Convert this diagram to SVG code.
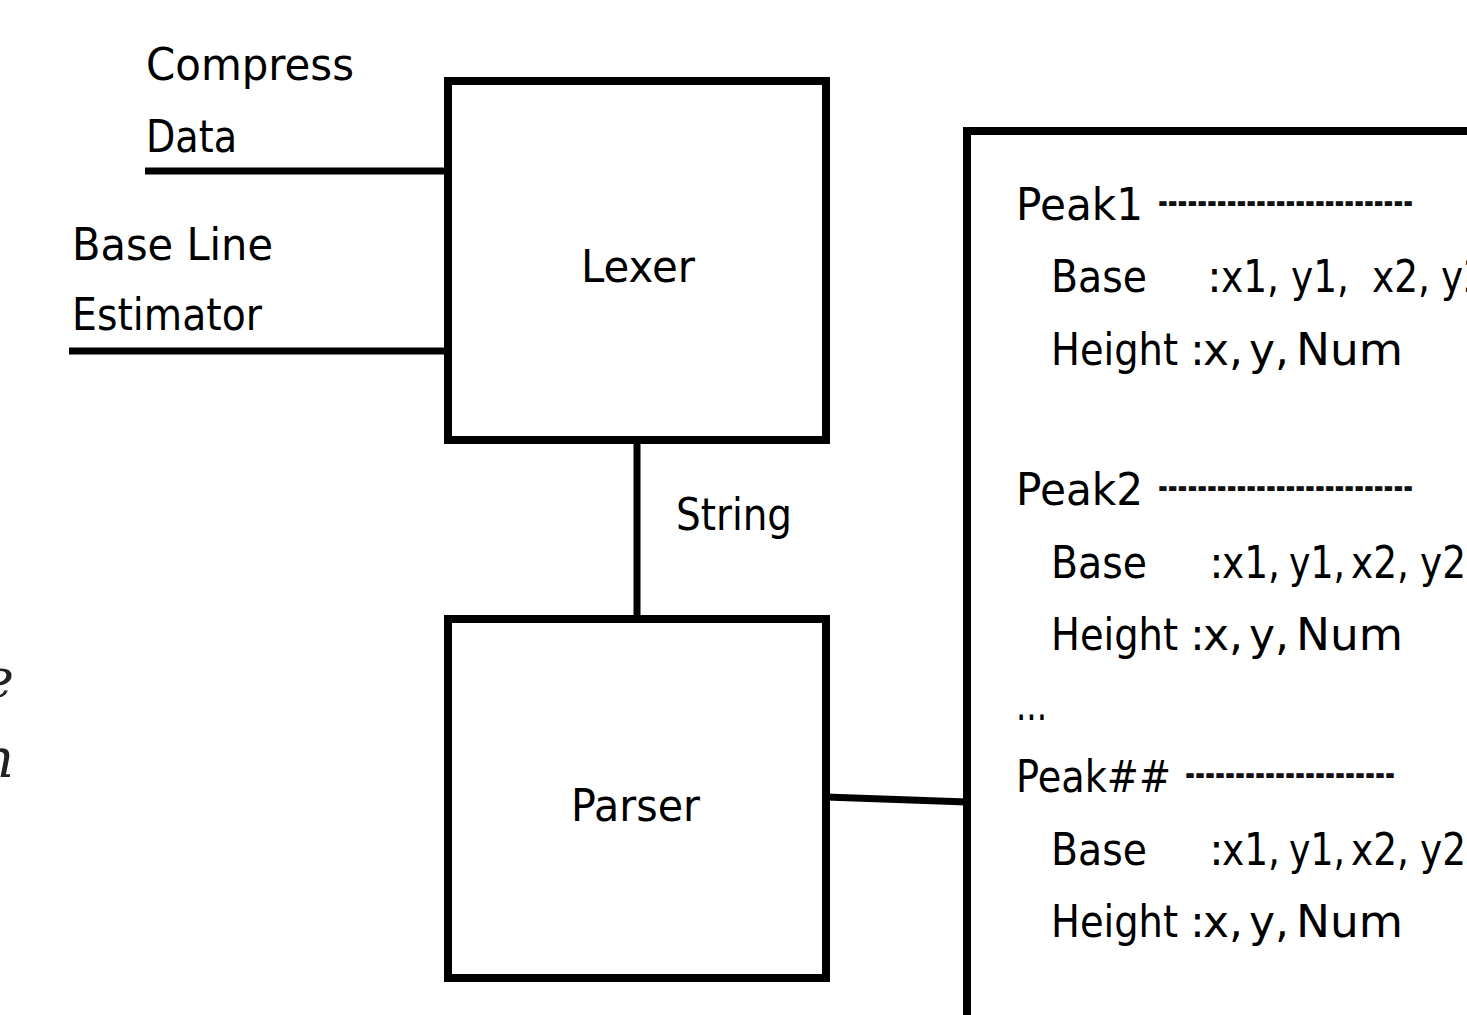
<svg xmlns="http://www.w3.org/2000/svg" width="1467" height="1015" viewBox="0 0 1467 1015">
  <style>
    .box { fill: #ffffff; stroke: #000000; stroke-width: 8; }
    .wire { stroke: #000000; stroke-width: 7; fill: none; }
    .lbl { font-family: "DejaVu Sans", "Liberation Sans", sans-serif; font-size: 44px; fill: #000000; }
    .dash { font-family: "DejaVu Sans", "Liberation Sans", sans-serif; font-size: 34px; font-weight: bold; fill: #111111; }
    .cut { font-family: "DejaVu Serif", "Liberation Serif", serif; font-style: italic; font-size: 54px; fill: #222222; }
  </style>
  <rect x="0" y="0" width="1467" height="1015" fill="#ffffff"/>

  <!-- clipped labels at the left border -->
  <g id="edge-text">
    <text class="cut" x="14" y="697" text-anchor="end">e</text>
    <text class="cut" x="14" y="777" text-anchor="end">n</text>
  </g>

  <!-- inputs -->
  <g id="compress-data">
    <text class="lbl" x="146" y="80" textLength="208" lengthAdjust="spacingAndGlyphs">Compress</text>
    <text class="lbl" x="146" y="152" textLength="91" lengthAdjust="spacingAndGlyphs">Data</text>
  </g>
  <g id="baseline-estimator">
    <text class="lbl" x="72" y="260" textLength="201" lengthAdjust="spacingAndGlyphs">Base Line</text>
    <text class="lbl" x="72" y="330" textLength="190" lengthAdjust="spacingAndGlyphs">Estimator</text>
  </g>

  <!-- connectors -->
  <g id="connectors">
    <line class="wire" x1="145" y1="171" x2="448" y2="171"/>
    <line class="wire" x1="69" y1="351" x2="448" y2="351"/>
    <line class="wire" x1="637" y1="440" x2="637" y2="619"/>
    <line class="wire" x1="826" y1="797" x2="967" y2="802" stroke-width="5"/>
    <text class="lbl" x="676" y="530" textLength="116" lengthAdjust="spacingAndGlyphs">String</text>
  </g>

  <!-- lexer -->
  <g id="lexer">
    <rect class="box" x="448" y="81" width="378" height="359"/>
    <text class="lbl" x="581" y="282" textLength="114" lengthAdjust="spacingAndGlyphs">Lexer</text>
  </g>

  <!-- parser -->
  <g id="parser">
    <rect class="box" x="448" y="619" width="378" height="359"/>
    <text class="lbl" x="571" y="821" textLength="129" lengthAdjust="spacingAndGlyphs">Parser</text>
  </g>

  <!-- parsed peak list -->
  <g id="peak-list">
    <path d="M967 1015 V131 H1467" fill="none" stroke="#000000" stroke-width="8"/>

    <text class="lbl" x="1016" y="220" textLength="127" lengthAdjust="spacingAndGlyphs">Peak1</text>
    <text class="dash" x="1158" y="213" textLength="255" lengthAdjust="spacingAndGlyphs">--------------------------</text>
    <text class="lbl" y="292"><tspan x="1051" textLength="96" lengthAdjust="spacingAndGlyphs">Base</tspan><tspan x="1207">:</tspan><tspan x="1221" textLength="58" lengthAdjust="spacingAndGlyphs">x1,</tspan><tspan x="1291" textLength="58" lengthAdjust="spacingAndGlyphs">y1,</tspan><tspan x="1372" textLength="58" lengthAdjust="spacingAndGlyphs">x2,</tspan><tspan x="1441" textLength="46" lengthAdjust="spacingAndGlyphs">y2</tspan></text>
    <text class="lbl" y="365"><tspan x="1051" textLength="127" lengthAdjust="spacingAndGlyphs">Height</tspan><tspan x="1190">:</tspan><tspan x="1203">x,</tspan><tspan x="1249">y,</tspan><tspan x="1296" textLength="107" lengthAdjust="spacingAndGlyphs">Num</tspan></text>

    <text class="lbl" x="1016" y="505" textLength="127" lengthAdjust="spacingAndGlyphs">Peak2</text>
    <text class="dash" x="1158" y="498" textLength="255" lengthAdjust="spacingAndGlyphs">--------------------------</text>
    <text class="lbl" y="578"><tspan x="1051" textLength="96" lengthAdjust="spacingAndGlyphs">Base</tspan><tspan x="1209">:</tspan><tspan x="1222" textLength="58" lengthAdjust="spacingAndGlyphs">x1,</tspan><tspan x="1289" textLength="56" lengthAdjust="spacingAndGlyphs">y1,</tspan><tspan x="1351" textLength="58" lengthAdjust="spacingAndGlyphs">x2,</tspan><tspan x="1420" textLength="46" lengthAdjust="spacingAndGlyphs">y2</tspan></text>
    <text class="lbl" y="650"><tspan x="1051" textLength="127" lengthAdjust="spacingAndGlyphs">Height</tspan><tspan x="1190">:</tspan><tspan x="1203">x,</tspan><tspan x="1249">y,</tspan><tspan x="1296" textLength="107" lengthAdjust="spacingAndGlyphs">Num</tspan></text>

    <text class="lbl" x="1016" y="720" textLength="31" lengthAdjust="spacingAndGlyphs">...</text>

    <text class="lbl" x="1016" y="792" textLength="155" lengthAdjust="spacingAndGlyphs">Peak##</text>
    <text class="dash" x="1185" y="785" textLength="210" lengthAdjust="spacingAndGlyphs">---------------------</text>
    <text class="lbl" y="865"><tspan x="1051" textLength="96" lengthAdjust="spacingAndGlyphs">Base</tspan><tspan x="1209">:</tspan><tspan x="1222" textLength="58" lengthAdjust="spacingAndGlyphs">x1,</tspan><tspan x="1289" textLength="56" lengthAdjust="spacingAndGlyphs">y1,</tspan><tspan x="1351" textLength="58" lengthAdjust="spacingAndGlyphs">x2,</tspan><tspan x="1420" textLength="46" lengthAdjust="spacingAndGlyphs">y2</tspan></text>
    <text class="lbl" y="937"><tspan x="1051" textLength="127" lengthAdjust="spacingAndGlyphs">Height</tspan><tspan x="1190">:</tspan><tspan x="1203">x,</tspan><tspan x="1249">y,</tspan><tspan x="1296" textLength="107" lengthAdjust="spacingAndGlyphs">Num</tspan></text>
  </g>
</svg>
